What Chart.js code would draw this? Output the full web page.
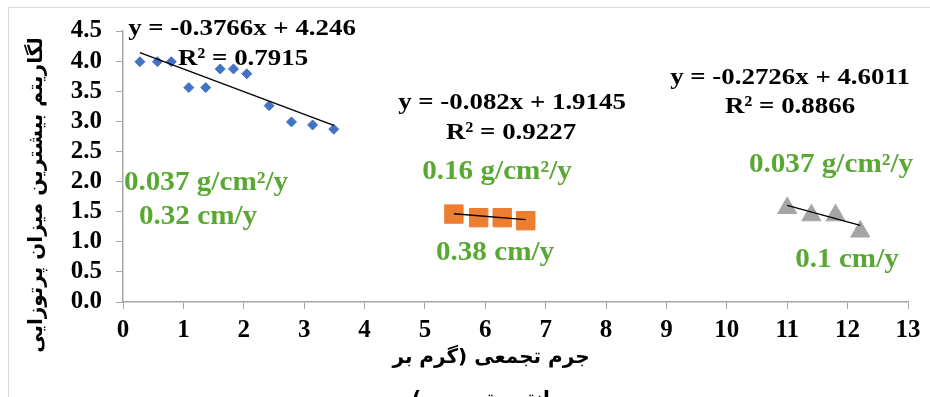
<!DOCTYPE html>
<html>
<head>
<meta charset="utf-8">
<script src="https://cdn.jsdelivr.net/npm/chart.js@4.4.1/dist/chart.umd.min.js"></script>
<style>
  html, body { margin: 0; padding: 0; background: #fff; }
  #wrap { position: relative; width: 930px; height: 397px; }
</style>
</head>
<body>
<div id="wrap"><canvas id="chart" width="930" height="397"></canvas></div>
<script>
// cumulative mass (x) and log activity (y) for the three core sections
const massA = [0.28, 0.57, 0.80, 1.09, 1.37, 1.61, 1.83, 2.05, 2.42, 2.79, 3.14, 3.49]
const logA = [3.99, 3.99, 3.99, 3.56, 3.56, 3.87, 3.87, 3.79, 3.26, 2.99, 2.94, 2.87]
const massB = [5.48, 5.89, 6.28, 6.67]
const logB = [1.46, 1.40, 1.40, 1.35]
const massC = [11.0, 11.40, 11.80, 12.21]
const logC = [1.56, 1.44, 1.44, 1.17]

// trendline coefficients as printed on the chart
const slopes = [-0.3766, -0.082, -0.2726]
const intercepts = [4.246, 1.9145, 4.6011]
const eqLabels = ["y = -0.3766x + 4.246", "y = -0.082x + 1.9145", "y = -0.2726x + 4.6011"]
const r2Labels = ["R² = 0.7915", "R² = 0.9227", "R² = 0.8866"]
const rateLabels = ["0.037 g/cm²/y", "0.32 cm/y", "0.16 g/cm²/y", "0.38 cm/y", "0.037 g/cm²/y", "0.1 cm/y"]

const xTitle = ["جرم تجمعی (گرم بر", "سانتی‌متر مربع)"]
const yTitle = "لگاریتم بیشترین میزان پرتوزایی"

const toPoints = (xs, ys) => xs.map((x, i) => ({ x: x, y: ys[i] }))

// two end points of each fitted line, over the x range of its own series
const trend = (xs, k) => {
  const x0 = Math.min(...xs)
  const x1 = Math.max(...xs)
  return [
    { x: x0, y: slopes[k] * x0 + intercepts[k] },
    { x: x1, y: slopes[k] * x1 + intercepts[k] },
  ]
}

const trendSet = (data) => ({
  type: "line",
  data: data,
  borderColor: "#000",
  borderWidth: 1.3,
  pointRadius: 0,
  fill: false,
  order: 0,
})

const SERIF = "'Liberation Serif', 'Times New Roman', serif"
const ARABIC = "'DejaVu Sans', sans-serif"
const GREEN = "#5aa834"

// text placement (pixels)
const eqPos = [[242, 29], [512, 103], [790, 78]]
const r2Pos = [[243, 59], [511, 133], [790, 107]]
const ratePos = [[206, 183], [198, 217], [497, 172], [495, 253], [831, 165], [847, 260]]

const drawText = (ctx, txt, x, y, font, color, sx) => {
  ctx.save()
  ctx.translate(x, y)
  ctx.scale(sx, 1)
  ctx.font = font
  ctx.fillStyle = color
  ctx.textAlign = "center"
  ctx.textBaseline = "middle"
  ctx.fillText(txt, 0, 0)
  ctx.restore()
}

const annotations = {
  id: "annotations",
  beforeDraw(chart) {
    const ctx = chart.ctx
    ctx.save()
    ctx.strokeStyle = "#d9d9d9"
    ctx.lineWidth = 1
    ctx.beginPath()
    ctx.moveTo(8.5, 397)
    ctx.lineTo(8.5, 7.5)
    ctx.lineTo(930, 7.5)
    ctx.stroke()
    ctx.restore()
  },
  afterDraw(chart) {
    const ctx = chart.ctx
    eqLabels.forEach((t, i) => drawText(ctx, t, eqPos[i][0], eqPos[i][1], "bold 24px " + SERIF, "#000", 1.12))
    r2Labels.forEach((t, i) => drawText(ctx, t, r2Pos[i][0], r2Pos[i][1], "bold 24px " + SERIF, "#000", 1.12))
    rateLabels.forEach((t, i) => drawText(ctx, t, ratePos[i][0], ratePos[i][1], "bold 27px " + SERIF, GREEN, 1.08))

    // axis titles (persian, right-to-left)
    ctx.save()
    ctx.direction = "rtl"
    ctx.fillStyle = "#000"
    ctx.textAlign = "center"
    ctx.textBaseline = "middle"
    ctx.font = "bold 20px " + ARABIC
    ctx.fillText(xTitle[0], 491, 358)
    ctx.fillText(xTitle[1], 491, 400)
    ctx.translate(37, 195)
    ctx.rotate(-Math.PI / 2)
    ctx.fillText(yTitle, 0, 0)
    ctx.restore()
  },
}

const tickFont = { family: SERIF, size: 25, weight: "bold" }

new Chart(document.getElementById("chart"), {
  type: "scatter",
  data: {
    datasets: [
      trendSet(trend(massA, 0)),
      trendSet(trend(massB, 1)),
      trendSet(trend(massC, 2)),
      {
        data: toPoints(massA, logA),
        pointStyle: "rectRot",
        pointRadius: 5,
        backgroundColor: "#4472c4",
        borderColor: "#4472c4",
        borderWidth: 1,
        order: 1,
      },
      {
        data: toPoints(massB, logB),
        pointStyle: "rect",
        pointRadius: 13,
        backgroundColor: "#ed7d31",
        borderColor: "#ed7d31",
        borderWidth: 1,
        order: 1,
      },
      {
        data: toPoints(massC, logC),
        pointStyle: "triangle",
        pointRadius: 11,
        backgroundColor: "#a5a5a5",
        borderColor: "#a5a5a5",
        borderWidth: 1,
        order: 1,
      },
    ],
  },
  options: {
    responsive: false,
    animation: false,
    events: [],
    layout: { padding: { left: 0, right: 22, top: 31, bottom: 0 } },
    plugins: {
      legend: { display: false },
      tooltip: { enabled: false },
    },
    scales: {
      x: {
        type: "linear",
        min: 0,
        max: 13,
        afterFit: (scale) => { scale.height = 95 },
        border: { color: "#a6a6a6", width: 1.5 },
        grid: { drawOnChartArea: false, drawTicks: true, tickLength: 7, color: "#a6a6a6" },
        ticks: { stepSize: 1, autoSkip: false, maxRotation: 0, color: "#000", font: tickFont, padding: 7 },
      },
      y: {
        type: "linear",
        min: 0,
        max: 4.5,
        afterFit: (scale) => { scale.width = 123 },
        border: { color: "#a6a6a6", width: 1.5 },
        grid: { drawOnChartArea: false, drawTicks: true, tickLength: 7, color: "#a6a6a6" },
        ticks: {
          stepSize: 0.5,
          autoSkip: false,
          color: "#000",
          font: tickFont,
          padding: 14,
          callback: (v) => v.toFixed(1),
        },
      },
    },
  },
  plugins: [annotations],
})
</script>
</body>
</html>
